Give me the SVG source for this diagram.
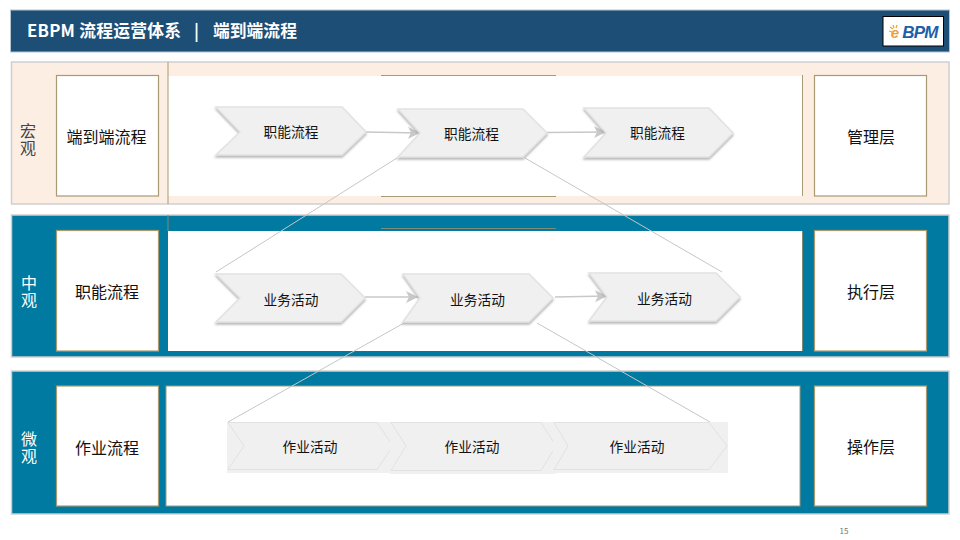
<svg xmlns="http://www.w3.org/2000/svg" width="960" height="540" viewBox="0 0 960 540">
<style>
text{font-family:"Noto Sans CJK SC","Noto Sans",sans-serif;text-anchor:middle;fill:#111}
.band{stroke:#cfcfcf;stroke-width:1.5}
.blue{fill:#007aa0}
.panel{fill:#fff}
.box{fill:#fff;stroke:#a89a72;stroke-width:1.2}
.chev{fill:#f0f0f0;stroke:#e2e2e2;stroke-width:1.500;filter:url(#sh)}
.flat{fill:#f0f0f0;stroke:#e2e2e2;stroke-width:1}
.bg{fill:#f0f0f0}
.lab{font-size:16px}
.c{font-size:13.700px}
.side{font-size:16px;writing-mode:vertical-rl;letter-spacing:1px}
.ttl{font-size:16.800px;font-weight:700;fill:#fff;text-anchor:start}
.tan{stroke:#a89a72;stroke-width:1;fill:none}
.arrow{stroke:#c8c8c8;stroke-width:1.500;fill:none;marker-end:url(#ah)}
.link{stroke:#c6c6c6;stroke-width:1;fill:none}
</style>
<defs>
<filter id="sh" x="-10%" y="-10%" width="125%" height="130%"><feDropShadow dx="0" dy="2" stdDeviation="1" flood-color="#999" flood-opacity="0.7"/></filter>
<marker id="ah" markerUnits="userSpaceOnUse" markerWidth="14" markerHeight="14" refX="12" refY="6" orient="auto"><path d="M0 0L12 6L0 12L3 6Z" fill="#c8c8c8"/></marker>
</defs>
<rect width="960" height="540" fill="#fff"/>
<g id="header">
<rect x="10.500" y="10" width="939" height="42" fill="#1d4e75" stroke="#b4c6d6" stroke-width="1"/>
<text class="ttl" x="27" y="37" textLength="154">EBPM 流程运营体系</text>
<text class="ttl" x="194" y="37">|</text>
<text class="ttl" x="213" y="37">端到端流程</text>
</g>
<g id="logo">
<rect x="883" y="16.500" width="60.500" height="29.500" fill="#fff" stroke="#000" stroke-width="1"/>
<text x="895" y="38" style="font-size:15px;font-weight:700;font-style:italic;fill:#f0a030;font-family:'Liberation Sans',sans-serif">e</text>
<path d="M890 27l3 2M893 25l1 3M897 25l-1 3M889 31l3 1" stroke="#f0a030" stroke-width="1.200" fill="none"/>
<text x="920" y="37.500" style="font-size:17px;font-weight:700;font-style:italic;fill:#1f5fa8;font-family:'Liberation Sans',sans-serif;letter-spacing:-0.800px">BPM</text>
</g>
<g id="band-macro">
<rect class="band" x="11.500" y="62" width="937.500" height="142" fill="#fdeee4"/>
<rect class="panel" x="168" y="76" width="634" height="120"/>
<path class="tan" d="M168 62V204M381 75.500H556M381 196.500H556M802.500 75V196"/>
<text class="side" x="28" y="140" style="fill:#444">宏观</text>
</g>
<g id="band-meso">
<rect class="band blue" x="11.500" y="215" width="937.500" height="142"/>
<rect class="panel" x="168" y="231" width="634" height="120"/>
<path class="tan" d="M168 215V231M381 228.500H556M802.500 231V351" style="stroke:#7d8a78"/>
<text class="side" x="29" y="292" style="fill:#fff">中观</text>
</g>
<g id="band-micro">
<rect class="band blue" x="11.500" y="371" width="937.500" height="143"/>
<rect class="panel" x="166" y="386" width="634" height="120" stroke="#9a9a80" stroke-width="1"/>
<text class="side" x="29" y="448" style="fill:#fff">微观</text>
</g>
<g id="left-1"><rect class="box" x="56.500" y="75.500" width="102" height="120.500"/><text class="lab" x="106.500" y="143">端到端流程</text></g>
<g id="left-2"><rect class="box" x="56.500" y="230.500" width="102" height="120.500"/><text class="lab" x="107" y="298">职能流程</text></g>
<g id="left-3"><rect class="box" x="56.500" y="386" width="102" height="120"/><text class="lab" x="107" y="454">作业流程</text></g>
<g id="right-1"><rect class="box" x="814.500" y="75.500" width="112" height="120.500"/><text class="lab" x="871" y="143">管理层</text></g>
<g id="right-2"><rect class="box" x="814.500" y="230.500" width="112" height="120.500"/><text class="lab" x="871" y="298">执行层</text></g>
<g id="right-3"><rect class="box" x="814.500" y="386" width="112" height="120"/><text class="lab" x="871" y="453">操作层</text></g>
<g id="connectors">
<path class="link" d="M397 158L216 272M525 158L722 272M404 323L228 422M537 323L710 422"/>
<path class="arrow" d="M366 132L420 133"/>
<path class="arrow" d="M547 132.500L606 132"/>
<path class="arrow" d="M365 297L418 297"/>
<path class="arrow" d="M555 297L607 296"/>
</g>
<g id="f1"><polygon class="chev" points="216,107 342,107 366,132 342,155 216,155 240,132"/><text class="c" x="291" y="137">职能流程</text></g>
<g id="f2"><polygon class="chev" points="398,109 523,109 547,133 523,157 398,157 420,133"/><text class="c" x="471.500" y="139">职能流程</text></g>
<g id="f3"><polygon class="chev" points="584,108 709,108 733,133 709,157 584,157 606,133"/><text class="c" x="657.500" y="138">职能流程</text></g>
<g id="b1"><polygon class="chev" points="216,274 341,274 365,298 341,322 216,322 240,298"/><text class="c" x="291" y="305">业务活动</text></g>
<g id="b2"><polygon class="chev" points="403,274 529,274 553,298 529,322 403,322 420,298"/><text class="c" x="477.500" y="305">业务活动</text></g>
<g id="b3"><polygon class="chev" points="589,273 716,273 740,297 716,321 589,321 607,297"/><text class="c" x="664.500" y="304">业务活动</text></g>
<g id="w1"><rect class="bg" x="227" y="422" width="166" height="51"/><polygon class="flat" points="228,422.500 377,422.500 393,446 377,469.500 228,469.500 244,446"/><text class="c" x="310" y="452">作业活动</text></g>
<g id="w2"><rect class="bg" x="390" y="422" width="166" height="52"/><polygon class="flat" points="391,422.500 541,422.500 556,446 541,470.500 391,470.500 406,446"/><text class="c" x="472" y="452">作业活动</text></g>
<g id="w3"><rect class="bg" x="553" y="422" width="175" height="51"/><polygon class="flat" points="554,422.500 709,422.500 727,446 709,469.500 554,469.500 568,446"/><text class="c" x="637" y="452">作业活动</text></g>
<text x="844" y="534" style="font-size:8px;fill:#777">15</text>
</svg>
